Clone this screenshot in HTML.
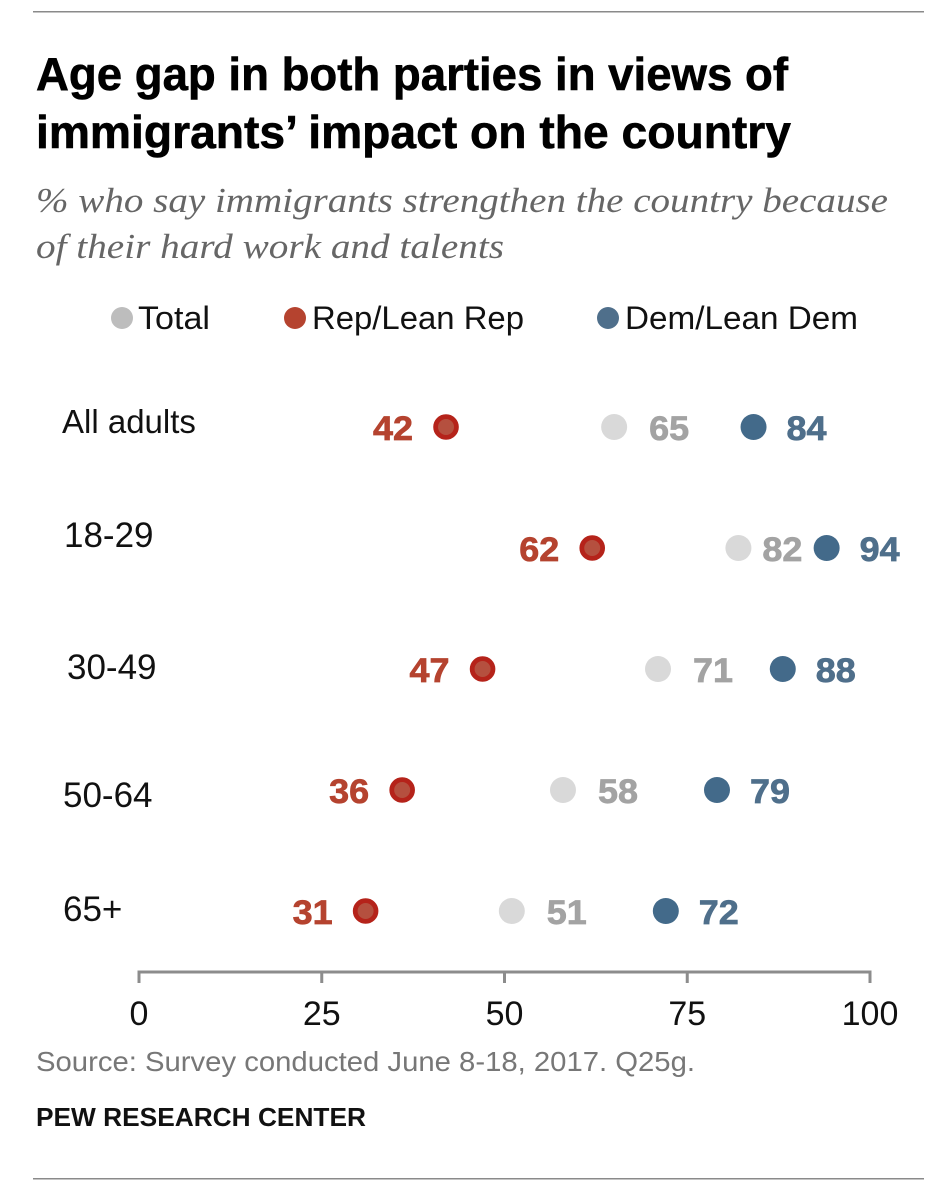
<!DOCTYPE html>
<html lang="en">
<head>
<meta charset="utf-8">
<title>Age gap in both parties in views of immigrants' impact on the country</title>
<style>
html,body{margin:0;padding:0;background:#fff;width:948px;height:1200px;overflow:hidden}
svg{display:block}
text{font-family:"Liberation Sans",Arial,sans-serif}
</style>
</head>
<body>
<svg id="chart" width="948" height="1200" viewBox="0 0 948 1200">
  <rect x="33" y="11" width="891" height="1.5" fill="#8a8a8a"/>
  <rect x="33" y="1178" width="891" height="1.5" fill="#8a8a8a"/>
  <g>
    <text x="36" y="90" font-size="46" font-weight="700" fill="#000" stroke="#000" stroke-width="0.6" textLength="752" lengthAdjust="spacingAndGlyphs">Age gap in both parties in views of</text>
    <text x="36" y="148" font-size="46" font-weight="700" fill="#000" stroke="#000" stroke-width="0.6" textLength="755" lengthAdjust="spacingAndGlyphs">immigrants’ impact on the country</text>
  </g>
  <g>
    <text x="36" y="212" font-size="35" font-style="italic" fill="#666" textLength="852" lengthAdjust="spacingAndGlyphs" style="font-family:'Liberation Serif',serif">% who say immigrants strengthen the country because</text>
    <text x="36" y="258" font-size="35" font-style="italic" fill="#666" textLength="468" lengthAdjust="spacingAndGlyphs" style="font-family:'Liberation Serif',serif">of their hard work and talents</text>
  </g>
  <g>
    <g>
      <circle cx="122" cy="318" r="11" fill="#bdbdbd"/>
      <text x="138" y="329" font-size="32" fill="#111" textLength="72" lengthAdjust="spacingAndGlyphs">Total</text>
    </g>
    <g>
      <circle cx="295" cy="318" r="11" fill="#b5432f"/>
      <text x="312" y="329" font-size="32" fill="#111" textLength="212" lengthAdjust="spacingAndGlyphs">Rep/Lean Rep</text>
    </g>
    <g>
      <circle cx="608" cy="318" r="11" fill="#4f6f8b"/>
      <text x="625" y="329" font-size="32" fill="#111" textLength="233" lengthAdjust="spacingAndGlyphs">Dem/Lean Dem</text>
    </g>
  </g>
  <g id="rows"></g>
  <g id="axis"></g>
  <text x="36" y="1071" font-size="27.5" fill="#777" textLength="659" lengthAdjust="spacingAndGlyphs">Source: Survey conducted June 8-18, 2017. Q25g.</text>
  <text x="36" y="1126" font-size="26" font-weight="700" fill="#111" textLength="330" lengthAdjust="spacingAndGlyphs">PEW RESEARCH CENTER</text>
</svg>
<script>
const categories = ['All adults', '18-29', '30-49', '50-64', '65+'];
const repValues = [42, 62, 47, 36, 31];
const totalValues = [65, 82, 71, 58, 51];
const demValues = [84, 94, 88, 79, 72];
const tickValues = [0, 25, 50, 75, 100];

const NS = 'http://www.w3.org/2000/svg';
const AXIS_LEFT = 139;
const AXIS_RIGHT = 870;
const ROW_TOP = 427;
const ROW_STEP = 121;
const AXIS_Y = 972;
const VALUE_WIDTH = 40;

function xScale(v) { return AXIS_LEFT + (v / 100) * (AXIS_RIGHT - AXIS_LEFT); }
function yScale(i) { return ROW_TOP + i * ROW_STEP; }

function make(tag, attrs, parent, content) {
  const el = document.createElementNS(NS, tag);
  for (const k in attrs) el.setAttribute(k, attrs[k]);
  if (content !== undefined) el.textContent = content;
  parent.appendChild(el);
  return el;
}

function valueLabel(x, y, fill, parent, v) {
  return make('text', {
    x: x, y: y + 13, 'font-size': 34, 'font-weight': 700, fill: fill,
    stroke: fill, 'stroke-width': 0.7,
    textLength: VALUE_WIDTH, lengthAdjust: 'spacingAndGlyphs'
  }, parent, v);
}

const rowsG = document.getElementById('rows');
const labelOffsets = [[62, -5], [64, -12], [67, -1], [63, 6], [63, -1]];

categories.forEach(function (cat, i) {
  const y = yScale(i);
  const row = make('g', {}, rowsG);
  
  

  const lab = make('text', { x: labelOffsets[i][0], y: y + labelOffsets[i][1] + 11, 'font-size': i === 0 ? 33 : 35, fill: '#111' }, row, cat);
  
  

  // Republican
  const rx = xScale(repValues[i]);
  const rd = make('circle', { cx: rx, cy: y, r: 10.4, fill: '#b5503f', stroke: '#b5231a', 'stroke-width': 4.8 }, row);
  
  
  const rt = valueLabel(rx - 33 - VALUE_WIDTH, y, '#b5432f', row, repValues[i]);
  
  

  // Total
  const tx = xScale(totalValues[i]);
  const td = make('circle', { cx: tx, cy: y, r: 13, fill: '#d9d9d9' }, row);
  
  
  // The label tucks in closer when the Dem dot would otherwise collide with it
  const crowded = demValues[i] - totalValues[i] < 15;
  const tt = valueLabel(tx + (crowded ? 24 : 35), y, '#a3a3a3', row, totalValues[i]);
  
  

  // Democrat
  const dx = xScale(demValues[i]);
  const dd = make('circle', { cx: dx + 0.5, cy: y, r: 13, fill: '#436a8a' }, row);
  
  
  const dt = valueLabel(dx + 33.5, y, '#4f6f8b', row, demValues[i]);
  
  
});

const axisG = document.getElementById('axis');
const baseline = make('line', { x1: AXIS_LEFT - 1.5, x2: AXIS_RIGHT + 1.5, y1: AXIS_Y, y2: AXIS_Y, stroke: '#8c8c8c', 'stroke-width': 3 }, axisG);


tickValues.forEach(function (t) {
  const x = xScale(t);
  const tick = make('line', { x1: x, x2: x, y1: AXIS_Y, y2: AXIS_Y + 11, stroke: '#8c8c8c', 'stroke-width': 3 }, axisG);
  
  
  const lab = make('text', { x: x, y: 1025, 'font-size': 34, fill: '#111', 'text-anchor': 'middle' }, axisG, t);
  
  
});
</script>
</body>
</html>
